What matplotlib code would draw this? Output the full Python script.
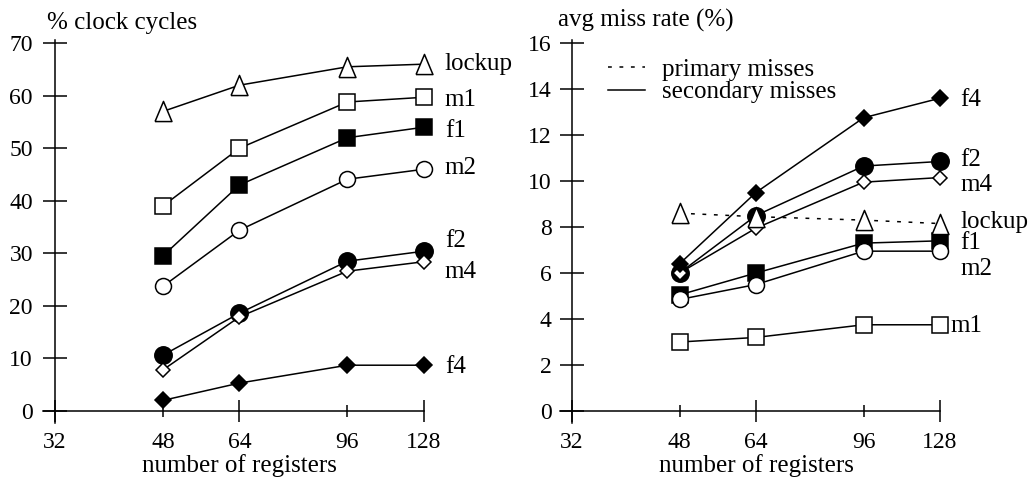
"""Register count vs clock cycles and miss rate, two panels."""

import matplotlib
matplotlib.use("Agg")
import matplotlib.pyplot as plt
from matplotlib.lines import Line2D
from matplotlib.transforms import blended_transform_factory

plt.rcParams["font.family"] = ["Liberation Serif", "DejaVu Serif"]
plt.rcParams["font.size"] = 18

# ---------------------------------------------------------------------------
# Data
# ---------------------------------------------------------------------------

registers = [48, 64, 96, 128]
series = ["m1", "f1", "m2", "f2", "m4", "f4", "lockup"]

cycles_lockup = [57, 62, 65.5, 66]
cycles_m1 = [39, 50, 58.8, 59.7]
cycles_f1 = [29.5, 43, 52, 54]
cycles_m2 = [23.7, 34.4, 44.1, 46]
cycles_f2 = [10.6, 18.6, 28.5, 30.4]
cycles_m4 = [7.8, 17.9, 26.6, 28.4]
cycles_f4 = [2.0, 5.3, 8.7, 8.7]

miss_lockup = [8.6, 8.45, 8.3, 8.15]
miss_m1 = [3.0, 3.2, 3.75, 3.75]
miss_f1 = [5.05, 6.0, 7.3, 7.4]
miss_m2 = [4.85, 5.5, 6.95, 6.95]
miss_f2 = [6.0, 8.5, 10.65, 10.85]
miss_m4 = [6.0, 7.95, 9.95, 10.15]
miss_f4 = [6.4, 9.5, 12.75, 13.6]

cycles = {"lockup": cycles_lockup, "m1": cycles_m1, "f1": cycles_f1,
          "m2": cycles_m2, "f2": cycles_f2, "m4": cycles_m4, "f4": cycles_f4}
misses = {"lockup": miss_lockup, "m1": miss_m1, "f1": miss_f1,
          "m2": miss_m2, "f2": miss_f2, "m4": miss_m4, "f4": miss_f4}

# ---------------------------------------------------------------------------
# Styles
# ---------------------------------------------------------------------------

TRI = [(-0.42, -0.5), (0.42, -0.5), (0.0, 0.5), (-0.42, -0.5)]
markers = {
    "lockup": dict(marker=TRI, ms=14.5, mfc="white"),
    "m1": dict(marker="s", ms=11.5, mfc="white"),
    "f1": dict(marker="s", ms=11.5, mfc="black"),
    "m2": dict(marker="o", ms=11.5, mfc="white"),
    "f2": dict(marker="o", ms=12.5, mfc="black"),
    "m4": dict(marker="D", ms=7.5, mfc="white"),
    "f4": dict(marker="D", ms=8, mfc="black"),
}
DOTTED = (0, (2.5, 5))
LW = 1.1
TICK_FS = 17

# label offsets (points): x from the last point, y of the text baseline
left_offsets = {"lockup": (15, -4.3), "m1": (15, -6.5), "f1": (15, -7.2),
                "m2": (15, -3.6), "f2": (15, 2.9), "m4": (15, -11.5),
                "f4": (15, -5.8)}
right_offsets = {"lockup": (14.4, -2.9), "m1": (7.5, -5.0), "f1": (14.4, -5.8),
                 "m2": (14.4, -17.3), "f2": (14.4, -3.6), "m4": (14.4, -9.4),
                 "f4": (14.4, -5.8)}


def style_axes(ax, ylim, yticks, ytick_pad):
    ax.set_xscale("log", base=2)
    ax.set_xlim(30.6, 128)
    ax.set_ylim(*ylim)
    for side in ("top", "right"):
        ax.spines[side].set_visible(False)
    ax.spines["left"].set_position(("data", 32))
    ax.spines["bottom"].set_position(("data", 0))
    for side in ("left", "bottom"):
        ax.spines[side].set_linewidth(1.1)

    ax.set_xticks([32, 64, 128], labels=["32", "64", "128"])
    ax.set_xticks([48, 96], labels=["48", "96"], minor=True)
    ax.set_yticks(yticks)
    ax.tick_params(axis="x", which="major", direction="inout", length=16.5,
                   width=1.1, pad=7.0, labelsize=TICK_FS)
    ax.tick_params(axis="x", which="minor", direction="inout", length=8.6,
                   width=1.1, pad=11.0, labelsize=TICK_FS)
    ax.tick_params(axis="y", which="major", direction="inout", length=17.3,
                   width=1.1, pad=ytick_pad, labelsize=TICK_FS)
    ax.tick_params(axis="y", which="minor", left=False)

    ax.set_xlabel("number of registers", fontsize=18, va="baseline")
    trans = blended_transform_factory(ax.transData, ax.transAxes)
    ax.xaxis.set_label_coords(64, -0.127, transform=trans)


def draw_panel(ax, values, offsets, dotted=()):
    for name in series:
        ls = DOTTED if name in dotted else "-"
        ax.plot(registers, values[name], color="black", lw=LW, ls=ls,
                mec="black", mew=1.1, clip_on=False, **markers[name])
        ax.annotate(name, (registers[-1], values[name][-1]),
                    xytext=offsets[name], textcoords="offset points",
                    va="baseline", ha="left", fontsize=18)


fig = plt.figure(figsize=(10.29, 4.78), dpi=100)
ax1 = fig.add_axes([43 / 1029, 55 / 478, 381 / 1029, 383 / 478])
ax2 = fig.add_axes([560 / 1029, 55 / 478, 380 / 1029, 383 / 478])

style_axes(ax1, (-2.3, 70.6), range(0, 71, 10), 7.2)
draw_panel(ax1, cycles, left_offsets)
ax1.text(0.011, 1.0287, "% clock cycles", transform=ax1.transAxes,
         ha="left", va="baseline", fontsize=18)

style_axes(ax2, (-0.52, 16.13), range(0, 17, 2), 6)
draw_panel(ax2, misses, right_offsets, dotted=("lockup",))
ax2.text(-0.005, 1.034, "avg miss rate (%)", transform=ax2.transAxes,
         ha="left", va="baseline", fontsize=18)

handles = [Line2D([], [], color="black", lw=LW, ls=DOTTED),
           Line2D([], [], color="black", lw=LW)]
ax2.legend(handles, ["primary misses", "secondary misses"], loc="upper left",
           bbox_to_anchor=(0.126, 0.952), frameon=False, fontsize=18,
           handlelength=1.5, handletextpad=0.65, labelspacing=0.0,
           borderpad=0, borderaxespad=0)

fig.savefig("out.png", dpi=100)
plt.close(fig)
